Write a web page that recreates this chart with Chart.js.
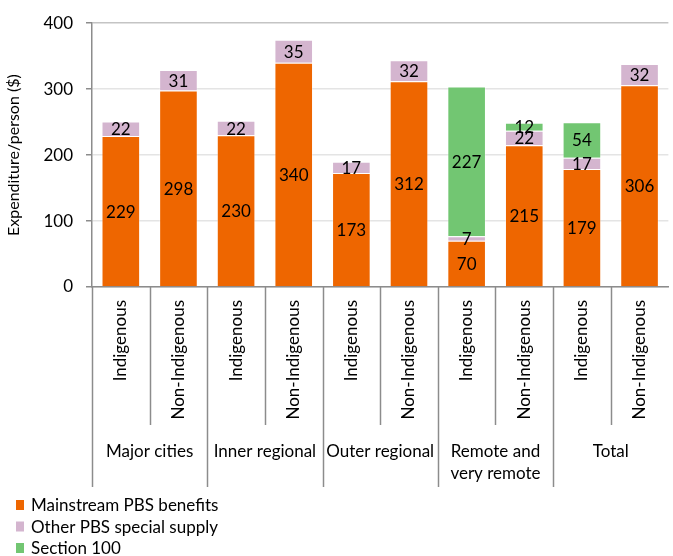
<!DOCTYPE html>
<html>
<head>
<meta charset="utf-8">
<script src="https://cdn.jsdelivr.net/npm/chart.js@4.4.1/dist/chart.umd.min.js"></script>
<style>
  html, body { margin: 0; padding: 0; background: #fff; }
  #wrap { width: 673px; height: 556px; position: relative; }
</style>
</head>
<body>
<div id="wrap"><canvas id="chart" width="673" height="556"></canvas></div>
<script>
// Categories (inner axis level) and regions (outer axis level)
const categories = ['Indigenous', 'Non-Indigenous', 'Indigenous', 'Non-Indigenous', 'Indigenous',
  'Non-Indigenous', 'Indigenous', 'Non-Indigenous', 'Indigenous', 'Non-Indigenous'];
const regions = [['Major cities'], ['Inner regional'], ['Outer regional'], ['Remote and', 'very remote'], ['Total']];

// Expenditure per person ($)
const mainstream = [229, 298, 230, 340, 173, 312, 70, 215, 179, 306];
const otherSpecial = [22, 31, 22, 35, 17, 32, 7, 22, 17, 32];
const section100 = [null, null, null, null, null, null, 227, 12, 54, null];

const seriesNames = ['Mainstream PBS benefits', 'Other PBS special supply', 'Section 100'];
const yTicks = [0, 100, 200, 300, 400];

const FONT = 'Lato, "Open Sans", sans-serif';
const COLORS = ['#EE6600', '#D4B5CF', '#72C672'];

// Value labels centred inside each stacked segment
const segmentLabels = {
  id: 'segmentLabels',
  afterDatasetsDraw(chart) {
    const ctx = chart.ctx;
    ctx.save();
    ctx.font = '17px ' + FONT;
    ctx.fillStyle = '#000';
    ctx.textAlign = 'center';
    ctx.textBaseline = 'middle';
    chart.data.datasets.forEach((ds, di) => {
      const meta = chart.getDatasetMeta(di);
      meta.data.forEach((bar, i) => {
        const v = ds.data[i];
        if (v === null || v === undefined) return;
        ctx.fillText(String(v), bar.x, (bar.y + bar.base) / 2 + 1);
      });
    });
    ctx.restore();
  }
};

// Two-level category axis: separators and region names
const groupAxis = {
  id: 'groupAxis',
  afterDraw(chart) {
    const ctx = chart.ctx;
    const x = chart.scales.x;
    const area = chart.chartArea;
    const n = categories.length;
    const boundary = (i) => {
      if (i === 0) return area.left;
      if (i === n) return area.right;
      return (x.getPixelForValue(i - 1) + x.getPixelForValue(i)) / 2;
    };
    ctx.save();
    ctx.strokeStyle = '#8c8c8c';
    ctx.lineWidth = 1.5;
    for (let i = 0; i < n; i++) {
      const bx = Math.round(boundary(i)) + 0.5;
      const end = (i % 2 === 0) ? 487 : 425;
      ctx.beginPath();
      ctx.moveTo(bx, area.bottom);
      ctx.lineTo(bx, end);
      ctx.stroke();
    }
    ctx.font = '17px ' + FONT;
    ctx.fillStyle = '#000';
    ctx.textAlign = 'center';
    ctx.textBaseline = 'middle';
    regions.forEach((lines, g) => {
      const cx = (boundary(2 * g) + boundary(2 * g + 2)) / 2;
      lines.forEach((t, k) => ctx.fillText(t, cx, 452 + k * 22));
    });
    ctx.restore();
  }
};

// Vertical legend in the lower-left corner
const stackedLegend = {
  id: 'stackedLegend',
  afterDraw(chart) {
    const ctx = chart.ctx;
    ctx.save();
    ctx.font = '17px ' + FONT;
    ctx.textAlign = 'left';
    ctx.textBaseline = 'middle';
    chart.data.datasets.forEach((ds, i) => {
      const cy = 505 + i * 21.5;
      ctx.fillStyle = ds.backgroundColor;
      ctx.fillRect(16, cy - 5, 8, 10);
      ctx.fillStyle = '#000';
      ctx.fillText(ds.label, 31, cy + 1);
    });
    ctx.restore();
  }
};

const seriesData = [mainstream, otherSpecial, section100];

new Chart(document.getElementById('chart'), {
  type: 'bar',
  data: {
    labels: categories,
    datasets: seriesNames.map((name, i) => ({
      label: name,
      data: seriesData[i],
      backgroundColor: COLORS[i],
      borderColor: 'rgba(255,255,255,0.35)',
      borderWidth: 1,
      barPercentage: 0.67,
      categoryPercentage: 1
    }))
  },
  options: {
    responsive: false,
    animation: false,
    devicePixelRatio: 1,
    layout: { padding: { top: 19, right: 1, left: 0, bottom: 0 } },
    plugins: {
      legend: { display: false },
      tooltip: { enabled: false }
    },
    scales: {
      x: {
        stacked: true,
        offset: true,
        grid: { display: false, drawTicks: false },
        border: { display: true, color: '#8c8c8c', width: 1.5 },
        ticks: {
          autoSkip: false,
          minRotation: 90,
          maxRotation: 90,
          padding: 13,
          color: '#000',
          font: { family: FONT, size: 17 }
        },
        afterFit(scale) { scale.height = 269; }
      },
      y: {
        stacked: true,
        min: 0,
        max: 400,
        afterBuildTicks(scale) { scale.ticks = yTicks.map(v => ({ value: v })); },
        grid: {
          color: (c) => c.tick && c.tick.value === 400 ? '#c4c4c4' : '#e4e4e4',
          lineWidth: 1.5,
          tickLength: 6,
          tickColor: '#8c8c8c'
        },
        border: { display: true, color: '#8c8c8c', width: 1.5 },
        ticks: {
          padding: 13,
          color: '#000',
          font: { family: FONT, size: 17 }
        },
        title: {
          display: true,
          text: 'Expenditure/person ($)',
          color: '#000',
          font: { family: FONT, size: 16 },
          padding: { top: 4, bottom: 4 }
        },
        afterFit(scale) { scale.width = 92; }
      }
    }
  },
  plugins: [segmentLabels, groupAxis, stackedLegend]
});
</script>
</body>
</html>
